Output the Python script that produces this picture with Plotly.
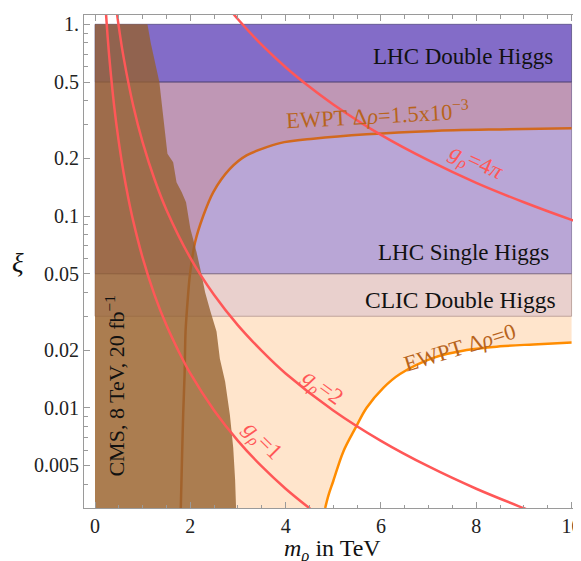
import plotly.graph_objects as go

# ---------------- data ----------------
x_ticks = [0, 2, 4, 6, 8, 10]
x_minor = [0.5, 1, 1.5, 2.5, 3, 3.5, 4.5, 5, 5.5, 6.5, 7, 7.5, 8.5, 9, 9.5]
y_ticks = [0.005, 0.01, 0.02, 0.05, 0.1, 0.2, 0.5, 1]
y_tick_text = ["0.005", "0.01", "0.02", "0.05", "0.1", "0.2", "0.5", "1."]
y_minor = [0.003, 0.004, 0.006, 0.007, 0.008, 0.009, 0.03, 0.04, 0.06, 0.07,
           0.08, 0.09, 0.3, 0.4, 0.6, 0.7, 0.8, 0.9]

band_x = [0, 10]
lhc_double = [0.5, 1.0]
lhc_single = [0.05, 0.5]
clic_double = [0.03, 0.05]
peach_top = 0.03

# CMS 8 TeV exclusion boundary (x = m_rho, xi)
cms_x = [1.10, 1.17, 1.26, 1.35, 1.42, 1.47, 1.52, 1.64, 1.71, 1.82, 1.91, 2.00,
         2.13, 2.24, 2.31, 2.42, 2.55, 2.62, 2.73, 2.83, 2.90, 2.94, 2.96]
cms_y = [1.0, 0.80, 0.62, 0.50, 0.35, 0.263, 0.211, 0.191, 0.150, 0.133, 0.118, 0.086,
         0.065, 0.049, 0.040, 0.032, 0.025, 0.018, 0.0137, 0.0092, 0.0062, 0.0042, 0.003]

# EWPT curves
ew0_x = [4.83, 4.90, 5.00, 5.21, 5.46, 5.70, 6.05, 6.40, 7.10, 7.80, 8.50, 9.20, 10.0]
ew0_y = [0.003, 0.0035, 0.00415, 0.0059, 0.0078, 0.0100, 0.0127, 0.0150, 0.0182,
         0.0200, 0.0209, 0.0214, 0.0219]
ew15_x = [1.80, 1.83, 1.85, 1.88, 1.90, 1.95, 1.99, 2.10, 2.27, 2.48, 2.83, 3.18,
          3.88, 4.58, 5.70, 7.10, 8.50, 10.0]
ew15_y = [0.003, 0.006, 0.0092, 0.015, 0.025, 0.038, 0.049, 0.073, 0.100, 0.133,
          0.176, 0.207, 0.240, 0.253, 0.267, 0.278, 0.283, 0.287]

# g_rho curves
g1_x = [0.22, 0.25, 0.30, 0.40, 0.50, 0.60, 0.70, 0.80, 1.00, 1.25, 1.50, 1.75,
        2.00, 2.50, 3.00, 3.50, 4.00, 4.50, 4.60]
g1_y = [1.25, 0.968, 0.672, 0.378, 0.242, 0.168, 0.1235, 0.0946, 0.0605, 0.0387,
        0.0269, 0.0198, 0.0151, 0.00968, 0.00672, 0.00494, 0.00378, 0.00299, 0.00286]
g2_x = [0.44, 0.50, 0.60, 0.80, 1.00, 1.25, 1.50, 2.00, 2.50, 3.00, 3.50, 4.00,
        5.00, 6.00, 7.00, 8.00, 9.00, 9.20]
g2_y = [1.25, 0.968, 0.672, 0.378, 0.242, 0.155, 0.1076, 0.0605, 0.0387, 0.0269,
        0.0198, 0.0151, 0.00968, 0.00672, 0.00494, 0.00378, 0.00299, 0.00286]
g4pi_x = [2.85, 3.00, 3.50, 4.00, 4.50, 5.00, 6.00, 7.00, 8.00, 9.00, 10.0, 10.5]
g4pi_y = [1.176, 1.062, 0.780, 0.597, 0.472, 0.382, 0.265, 0.195, 0.149, 0.118,
          0.0955, 0.0866]

# ---------------- styles ----------------
FONT = "Liberation Serif, Times New Roman, serif"
GRAY = "#9a9a9a"
C_PEACH = "#FFE5CC"
C_CLIC = "#E9D0CD"
C_SINGLE = "#B9A6D6"
C_MAUVE = "#BF97B5"
C_DOUBLE = "#836CC8"
C_BROWN = "rgba(149,97,47,0.79)"
C_RED = "#FF5757"
C_ORANGE = "#FF8C00"
C_CHOC = "#D2691E"
C_LAB = "#B8641C"

Y_RANGE = [-2.5229, 0.0485]
X_RANGE = [-0.231, 10.24]

fig = go.Figure()


def poly(xs, ys, color):
    fig.add_trace(go.Scatter(x=xs, y=ys, fill="toself", fillcolor=color, mode="lines",
                             line=dict(width=0, color=color),
                             hoverinfo="skip", showlegend=False))


def rect_xy(band):
    return ([band_x[0], band_x[1], band_x[1], band_x[0], band_x[0]],
            [band[0], band[0], band[1], band[1], band[0]])


# peach region (left of EWPT delta rho = 0)
px_ = [band_x[0]] + ew0_x + [band_x[1], band_x[0]]
py_ = [ew0_y[0]] + ew0_y + [peach_top, peach_top]
poly(px_, py_, C_PEACH)

# bands
poly(*rect_xy(clic_double), C_CLIC)
poly(*rect_xy(lhc_single), C_SINGLE)
mx = [band_x[0]] + [x for x, y in zip(ew15_x, ew15_y) if y >= 0.049] + [band_x[1], band_x[0]]
my = [lhc_single[0]] + [y for y in ew15_y if y >= 0.049] + [lhc_single[1], lhc_single[1]]
poly(mx, my, C_MAUVE)
poly(*rect_xy(lhc_double), C_DOUBLE)

# band outlines
for band, lc in [(clic_double, "rgba(150,115,105,0.55)"),
                 (lhc_single, "rgba(95,80,125,0.55)"),
                 (lhc_double, "rgba(60,50,100,0.6)")]:
    xs, ys = rect_xy(band)
    fig.add_trace(go.Scatter(x=xs, y=ys, mode="lines", line=dict(color=lc, width=1),
                             hoverinfo="skip", showlegend=False))

# EWPT curves
fig.add_trace(go.Scatter(x=ew0_x, y=ew0_y, mode="lines",
                         line=dict(color=C_ORANGE, width=2.5, shape="spline", smoothing=1.0),
                         hoverinfo="skip", showlegend=False))
fig.add_trace(go.Scatter(x=ew15_x, y=ew15_y, mode="lines",
                         line=dict(color=C_CHOC, width=2.5, shape="spline", smoothing=0.8),
                         hoverinfo="skip", showlegend=False))

# CMS exclusion
cx = [band_x[0]] + cms_x + [band_x[0]]
cy = [cms_y[0]] + cms_y + [cms_y[-1]]
poly(cx, cy, C_BROWN)

# g_rho curves
for gx, gy in [(g1_x, g1_y), (g2_x, g2_y), (g4pi_x, g4pi_y)]:
    fig.add_trace(go.Scatter(x=gx, y=gy, mode="lines",
                             line=dict(color=C_RED, width=2.5, shape="spline"),
                             hoverinfo="skip", showlegend=False))


# ---------------- annotations ----------------
def ann(text, x, y, size=23, color="#111111", angle=0, xanchor="center"):
    fig.add_annotation(text=text, x=x, y=y, xref="x", yref="y", showarrow=False,
                       font=dict(family=FONT, size=size, color=color), textangle=angle,
                       xanchor=xanchor, yanchor="middle")


ann("LHC Double Higgs", 9.66, -0.170, size=23, xanchor="right")
ann("LHC Single Higgs", 9.57, -1.188, size=23, xanchor="right")
ann("CLIC Double Higgs", 9.72, -1.437, size=23.5, xanchor="right")
ann("EWPT Δ<i>ρ</i>=1.5x10<sup>−3</sup>", 5.93, -0.470, size=22.5, color=C_LAB, angle=-3)
ann("EWPT Δ<i>ρ</i>=0", 7.66, -1.687, size=22.5, color=C_LAB, angle=-17)
ann("<i>g</i><sub><i>ρ</i></sub>=4<i>π</i>", 8.0, -0.725, size=23, color=C_RED, angle=24)
ann("<i>g</i><sub><i>ρ</i></sub>=2", 4.76, -1.900, size=23, color=C_RED, angle=36)
ann("<i>g</i><sub><i>ρ</i></sub>=1", 3.50, -2.175, size=23, color=C_RED, angle=45)
ann("CMS, 8 TeV, 20 fb<sup>−1</sup>", 0.40, -1.884, size=22, angle=-90)

fig.add_annotation(text="<i>m</i><sub><i>ρ</i></sub> in TeV", x=0.497, y=-0.085, xref="paper", yref="paper",
                   showarrow=False, font=dict(family=FONT, size=24, color="#111111"),
                   xanchor="center", yanchor="middle")
fig.add_annotation(text="<i>ξ</i>", x=-0.132, y=0.497, xref="paper", yref="paper",
                   showarrow=False, font=dict(family=FONT, size=27, color="#111111"),
                   xanchor="center", yanchor="middle")

# ---------------- layout ----------------
fig.update_layout(
    width=581, height=561,
    margin=dict(l=76, r=6, t=5, b=61),
    paper_bgcolor="white", plot_bgcolor="white",
    showlegend=False,
    xaxis=dict(range=X_RANGE, tickmode="array", tickvals=x_ticks,
               ticks="inside", ticklen=6, tickcolor=GRAY, tickwidth=1,
               minor=dict(ticks="inside", tickvals=x_minor, ticklen=3.5, tickcolor=GRAY),
               showline=True, linecolor=GRAY, linewidth=1, mirror="ticks",
               showgrid=False, zeroline=False, ticklabeloverflow="allow",
               tickfont=dict(family=FONT, size=20, color="#222222")),
    yaxis=dict(type="log", range=Y_RANGE, tickmode="array", tickvals=y_ticks, ticktext=y_tick_text,
               ticks="inside", ticklen=6, tickcolor=GRAY, tickwidth=1,
               minor=dict(ticks="inside", tickvals=y_minor, ticklen=3.5, tickcolor=GRAY),
               showline=True, linecolor=GRAY, linewidth=1, mirror="ticks",
               showgrid=False, zeroline=False, ticklabeloverflow="allow",
               tickfont=dict(family=FONT, size=20, color="#222222")),
)

fig.write_html("out.html")
